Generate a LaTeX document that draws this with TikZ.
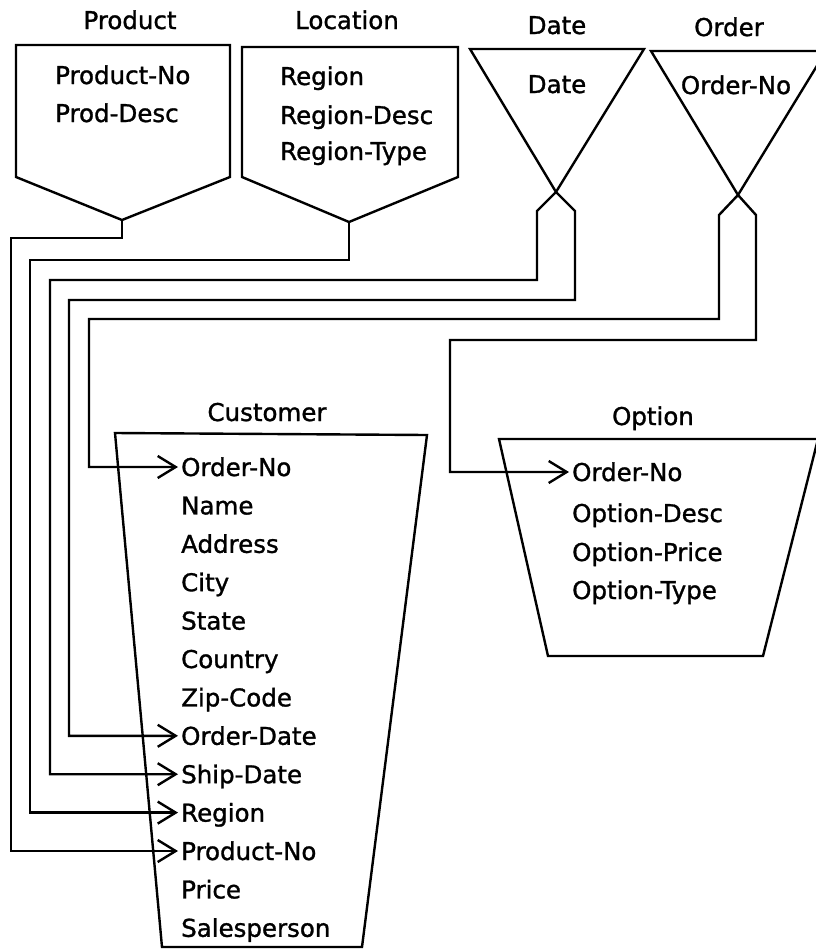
\documentclass[tikz,border=0pt]{standalone}
\usepackage{fontspec}
\setmainfont{DejaVu Sans}[FakeBold=1.2]
\usetikzlibrary{arrows.meta}
\begin{document}
\begin{tikzpicture}[x=1pt,y=-1pt,
  shapeline/.style={line width=2.4pt, line join=miter},
  conn/.style={line width=2.4pt},
  arr/.style={conn, -{Straight Barb[length=18pt,width=22pt,line width=2.4pt]}},
  lbl/.style={font=\fontsize{24.5}{27}\selectfont, inner sep=0pt, text height=18pt, text depth=0pt},
  item/.style={font=\fontsize{24.5}{27}\selectfont, anchor=west, inner sep=3pt, text height=18pt, text depth=0pt}]
\useasboundingbox (0,0) rectangle (816,951);
\fill[white] (0,0) rectangle (816,951);

% ---- shapes
\draw[shapeline] (16,45) -- (230,45) -- (230,177) -- (122,220) coordinate (prodtip) -- (16,177) -- cycle;
\draw[shapeline] (242,47) -- (458,47) -- (458,177) -- (349,222) coordinate (loctip) -- (242,177) -- cycle;
\draw[shapeline] (470,49) -- (644,49) -- (556,192) coordinate (datetip) -- cycle;
\draw[shapeline] (651,51) -- (826,51) -- (738,195) coordinate (ordertip) -- cycle;
\draw[shapeline] (115,433) -- (427,435) -- (362,947) -- (162,947) -- cycle;
\draw[shapeline] (499,439) -- (818,439) -- (763,656) -- (548,656) -- cycle;

% ---- titles
\node[lbl] (tProduct) at (130,20) {Product};
\node[lbl] (tLocation) at (347,20) {Location};
\node[lbl] (tDate) at (557,25) {Date};
\node[lbl] (tOrder) at (729,27) {Order};
\node[lbl] (tCustomer) at (267,412) {Customer};
\node[lbl] (tOption) at (653,416) {Option};

% ---- contents of top shapes
\node[item] (pNo) at (52,75) {Product-No};
\node[item] (pDesc) at (52,113) {Prod-Desc};
\node[item] (lReg) at (277,76) {Region};
\node[item] (lDesc) at (277,115) {Region-Desc};
\node[item] (lType) at (277,151) {Region-Type};
\node[lbl] (dDate) at (557,84) {Date};
\node[lbl] (oNo) at (736,85) {Order-No};

% ---- customer items
\foreach \t [count=\i from 0] in {Order-No,Name,Address,City,State,Country,Zip-Code,Order-Date,Ship-Date,Region,Product-No,Price,Salesperson}{
  \node[item] (c\i) at (178,467+38.4*\i) {\t};
}
% ---- option items
\node[item] (op0) at (569,472) {Order-No};
\node[item] (op1) at (569,513) {Option-Desc};
\node[item] (op2) at (569,552) {Option-Price};
\node[item] (op3) at (569,590) {Option-Type};

% ---- connectors
\draw[arr] (prodtip) -- (122,238) -- (11,238) |- (c10.west);
\draw[arr] (loctip) -- (349,260) -- (30,260) |- (c9.west);
\draw[arr] (datetip) -- (537,211) -- (537,280) -- (50,280) |- (c8.west);
\draw[arr] (datetip) -- (575,211) -- (575,300) -- (69,300) |- (c7.west);
\draw[arr] (ordertip) -- (719,215) -- (719,319) -- (89,319) |- (c0.west);
\draw[arr] (ordertip) -- (756,215) -- (756,340) -- (450,340) |- (op0.west);
\end{tikzpicture}
\end{document}
